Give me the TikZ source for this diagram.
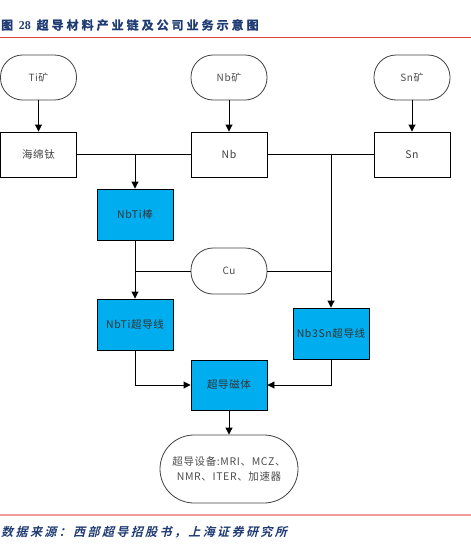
\documentclass[tikz,border=0pt]{standalone}
\usepackage{fontspec}
\setmainfont{Noto Sans CJK SC}
\newfontfamily\nodefont[LetterSpace=6]{Noto Sans CJK SC}
\newfontfamily\cjkbold[FakeBold=1.5,LetterSpace=25]{Noto Sans CJK SC Bold}
\newfontfamily\cjkslant[FakeSlant=0.25,LetterSpace=20]{Noto Sans CJK SC Bold}
\newfontfamily\serifb{Liberation Serif}
\usetikzlibrary{arrows.meta}
\definecolor{boxblue}{HTML}{00AEEF}
\definecolor{titleblue}{HTML}{1F3B73}
\definecolor{redline}{HTML}{E0413F}
\definecolor{pinkline}{HTML}{F29B9B}
\begin{document}
\begin{tikzpicture}[x=1pt,y=-1pt,
  stad/.style={draw=black!75,line width=0.8pt,rounded corners=22pt,minimum width=76pt,minimum height=45pt,inner sep=0pt,font=\fontsize{10}{12}\selectfont\nodefont,text=black!70},
  wbox/.style={draw=black,line width=0.9pt,minimum width=76pt,minimum height=45pt,inner sep=0pt,font=\fontsize{10.5}{12}\selectfont\nodefont,text=black!75},
  bbox/.style={draw=black,fill=boxblue,line width=0.9pt,minimum width=76pt,minimum height=51pt,inner sep=0pt,font=\fontsize{10.5}{12}\selectfont\nodefont,text=black!80},
  conn/.style={draw=black,line width=0.9pt},
  arr/.style={conn,-{Triangle[length=7pt,width=7pt]}}]
\useasboundingbox (0,0) rectangle (471,544);
% title and rules
\node[anchor=west,text=titleblue,font=\fontsize{12}{14}\selectfont\cjkbold,inner sep=0pt] (title) at (1,25) {图\ {\serifb\bfseries 28}\ 超导材料产业链及公司业务示意图};
\draw[redline,line width=0.9pt] (0,37) -- (471,37);
\draw[pinkline,line width=1.2pt] (0,515) -- (471,515);
\node[anchor=west,text=titleblue,font=\fontsize{12}{14}\selectfont\cjkslant,inner sep=0pt] (src) at (1,532) {数据来源：西部超导招股书，上海证券研究所};
% nodes
\node[stad] (ti) at (38.5,77.5) {Ti矿};
\node[stad] (nbo) at (229,77.5) {Nb矿};
\node[stad] (sno) at (412,77.5) {Sn矿};
\node[wbox] (hmt) at (38.5,154.5) {海绵钛};
\node[wbox] (nb) at (229,154.5) {Nb};
\node[wbox] (sn) at (412,154.5) {Sn};
\node[bbox] (bang) at (135,214.5) {NbTi棒};
\node[stad,minimum height=46pt] (cu) at (229,271) {Cu};
\node[bbox] (ntw) at (135,324.5) {NbTi超导线};
\node[bbox] (nsw) at (331,333.5) {Nb3Sn超导线};
\node[bbox,minimum height=50pt] (mag) at (229,385) {超导磁体};
\node[stad,minimum width=138pt,minimum height=68pt,rounded corners=34pt,align=center,font=\fontsize{10.5}{15}\selectfont\nodefont] (eq) at (229,469) {超导设备:MRI、MCZ、\\NMR、ITER、加速器};
% connectors
\draw[arr] (ti) -- (hmt);
\draw[arr] (nbo) -- (nb);
\draw[arr] (sno) -- (sn);
\draw[conn] (hmt.east) -- (nb.west);
\draw[conn] (nb.east) -- (sn.west);
\coordinate (j1) at (bang.north |- hmt.east);
\coordinate (j2) at (nsw.north |- nb.east);
\draw[arr] (j1) -- (bang.north);
\draw[arr] (j2) -- (nsw.north);
\draw[arr] (bang.south) -- (ntw.north);
\draw[conn] (cu.west) -- (cu.west -| bang.south);
\draw[conn] (cu.east) -- (cu.east -| nsw.north);
\draw[arr] (ntw.south) |- (mag.west);
\draw[arr] (nsw.south) |- (mag.east);
\draw[arr] (mag.south) -- (eq.north);
\end{tikzpicture}
\end{document}
